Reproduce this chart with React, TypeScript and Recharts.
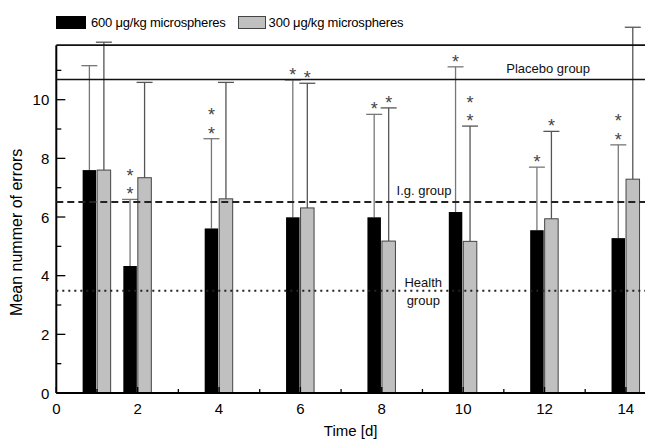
import {
  ComposedChart, Bar, XAxis, YAxis, ReferenceLine, ReferenceDot, Legend,
} from 'recharts';

const FONT = '"Liberation Sans", Arial, sans-serif';

// time points (days) and group means / SD
const days = [1, 2, 4, 6, 8, 10, 12, 14];
const mean600 = [7.6, 4.33, 5.61, 5.99, 5.99, 6.17, 5.55, 5.28];
const sd600 = [3.56, 2.27, 3.06, 4.68, 3.51, 4.95, 2.15, 3.18];
const stars600 = [0, 2, 2, 1, 1, 1, 1, 2];
const mean300 = [7.6, 7.34, 6.62, 6.31, 5.18, 5.17, 5.94, 7.29];
const sd300 = [4.36, 3.25, 3.97, 4.25, 4.54, 3.93, 2.98, 5.18];
const stars300 = [0, 0, 0, 1, 1, 2, 1, 0];

const xTicks = [0, 1, 2, 3, 4, 5, 6, 7, 8, 9, 10, 11, 12, 13, 14];
const yTicks = [0, 1, 2, 3, 4, 5, 6, 7, 8, 9, 10, 11];

// reference group levels
const placeboUpper = 11.86;
const placeboMean = 10.69;
const igMean = 6.51;
const healthMean = 3.49;

const groupLabels = [
  { x: 12.09, y: 11.07, text: 'Placebo group' },
  { x: 9.04, y: 6.92, text: 'I.g. group' },
  { x: 9.02, y: 3.76, text: 'Health' },
  { x: 9.02, y: 3.15, text: 'group' },
];

const data = days.map((t, i) => ({
  t,
  m600: mean600[i],
  sd600: sd600[i],
  s600: stars600[i],
  m300: mean300[i],
  sd300: sd300[i],
  s300: stars300[i],
}));

// bar + upper SD whisker + significance stars, all scaled off the bar Recharts lays out
function barShape(fill: string, stroke: string, errColor: string, meanKey: string, sdKey: string, starKey: string) {
  return (props: any) => {
    const { x, y, width, height, payload } = props;
    const mean = payload[meanKey];
    const pxPerUnit = mean ? height / mean : 0;
    const topY = y - payload[sdKey] * pxPerUnit;
    const cx = x + width / 2;
    const stars = [];
    for (let k = 0; k < payload[starKey]; k++) {
      stars.push(
        <text key={k} x={cx} y={topY + 1 - k * 18.5} textAnchor="middle" fontSize={18}
          fontFamily={FONT} fill="#444">*</text>
      );
    }
    return (
      <g>
        <line x1={cx} x2={cx} y1={y} y2={topY} stroke={errColor} strokeWidth={1.3} />
        <line x1={cx - 8} x2={cx + 8} y1={topY} y2={topY} stroke={errColor} strokeWidth={1.3} />
        <rect x={x} y={y} width={width} height={height} fill={fill}
          stroke={stroke} strokeWidth={stroke === 'none' ? 0 : 1} />
        {stars}
      </g>
    );
  };
}

const XTick = (props: any) => {
  const { x, y, payload } = props;
  const major = payload.value % 2 === 0;
  return (
    <g>
      <line x1={x} x2={x} y1={y} y2={y - (major ? 6 : 4)} stroke="#000" strokeWidth={1.3} />
      {major && (
        <text x={x} y={y + 15} textAnchor="middle" dominantBaseline="central"
          fontSize={15} fontFamily={FONT} fill="#000">{payload.value}</text>
      )}
    </g>
  );
};

const YTick = (props: any) => {
  const { x, y, payload } = props;
  const major = payload.value % 2 === 0;
  return (
    <g>
      <line x1={x} x2={x + (major ? 9 : 5)} y1={y} y2={y} stroke="#000" strokeWidth={1.3} />
      {major && (
        <text x={x - 7} y={y} textAnchor="end" dominantBaseline="central"
          fontSize={15} fontFamily={FONT} fill="#000">{payload.value}</text>
      )}
    </g>
  );
};

const renderLegend = () => (
  <div style={{ display: 'flex', alignItems: 'center', fontFamily: FONT, fontSize: 13, letterSpacing: -0.2, color: '#000', whiteSpace: 'nowrap' }}>
    <span style={{ display: 'inline-block', width: 30, height: 13, background: '#000' }} />
    <span style={{ marginLeft: 5 }}>600 μg/kg microspheres</span>
    <span style={{ display: 'inline-block', width: 26, height: 11, background: '#c0c0c0', border: '1px solid #444', marginLeft: 12 }} />
    <span style={{ marginLeft: 3 }}>300 μg/kg microspheres</span>
  </div>
);

const yLabel = (props: any) => {
  const { viewBox } = props;
  const cx = viewBox.x + 17;
  const cy = viewBox.y + viewBox.height / 2 + 30;
  return (
    <text x={cx} y={cy} transform={`rotate(-90, ${cx}, ${cy})`} textAnchor="middle"
      dominantBaseline="central" fontSize={16} fontFamily={FONT} fill="#000">
      Mean nummer of errors
    </text>
  );
};

export default function App() {
  return (
    <div style={{ position: 'absolute', left: 0, top: 0, background: '#fff' }}>
      <ComposedChart width={645} height={442} data={data}
        margin={{ top: 11.7, right: 0, bottom: 0, left: 0 }}
        barSize={13.5} barGap={1} style={{ fontFamily: FONT }}>
        <XAxis dataKey="t" type="number" domain={[0, 14.47]} ticks={xTicks} interval={0}
          tickSize={0} tickMargin={0} tick={<XTick />} height={49}
          axisLine={{ stroke: '#000', strokeWidth: 2 }}
          label={{ value: 'Time [d]', position: 'insideBottom', offset: 6, fontSize: 15, fill: '#000', fontFamily: FONT }} />
        <YAxis type="number" domain={[0, 13]} ticks={yTicks} interval={0} width={56.3}
          tickSize={0} tickMargin={0} tick={<YTick />} axisLine={false}
          label={{ content: yLabel }} />
        <Legend layout="vertical" align="center" verticalAlign="middle" content={renderLegend}
          wrapperStyle={{ top: 15, left: 56, width: 420, height: 14 }} />

        <ReferenceLine segment={[{ x: 0, y: 0 }, { x: 0, y: placeboUpper }]} stroke="#000" strokeWidth={2} />
        <ReferenceLine y={placeboUpper} stroke="#111" strokeWidth={1.6} />
        <ReferenceLine y={placeboMean} stroke="#111" strokeWidth={1.6} />
        <ReferenceLine y={igMean} stroke="#222" strokeWidth={2} strokeDasharray="7 4" />
        <ReferenceLine y={healthMean} stroke="#222" strokeWidth={2} strokeDasharray="2 4" />

        {groupLabels.map((g) => (
          <ReferenceDot key={g.text + g.y} x={g.x} y={g.y} r={0} fill="none" stroke="none"
            label={{ value: g.text, position: 'center', fontSize: 13, fill: '#111', fontFamily: FONT }} />
        ))}

        <Bar dataKey="m600" fill="#000" isAnimationActive={false}
          shape={barShape('#000', 'none', '#777', 'm600', 'sd600', 's600')} />
        <Bar dataKey="m300" fill="#c0c0c0" isAnimationActive={false}
          shape={barShape('#c0c0c0', '#444', '#555', 'm300', 'sd300', 's300')} />
      </ComposedChart>
    </div>
  );
}
